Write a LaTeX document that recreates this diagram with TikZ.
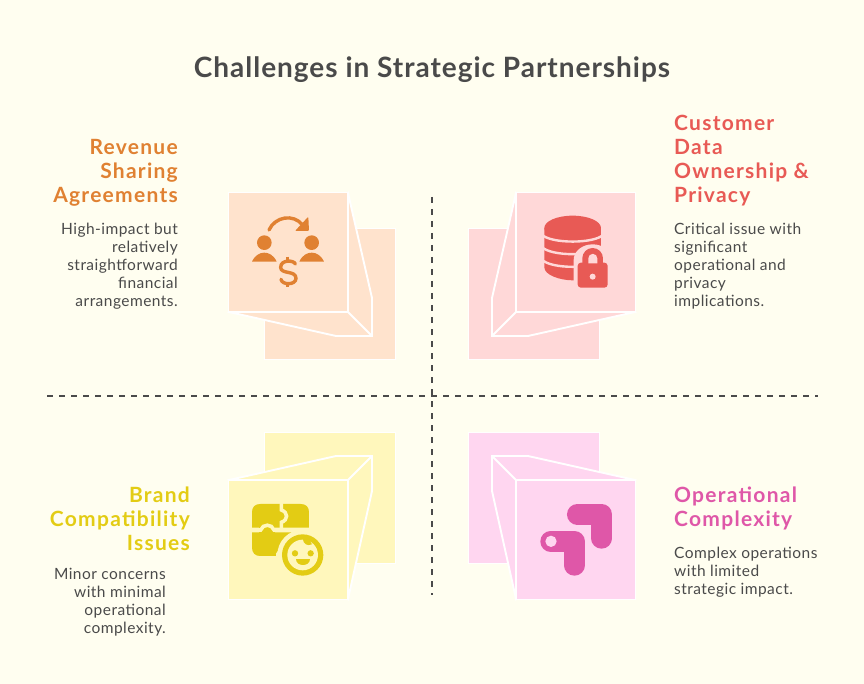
\documentclass[tikz,border=0pt]{standalone}
\usepackage{fontspec}
\setmainfont[LetterSpace=3]{Lato}
\newfontfamily\headfont[BoldFont=Lato Bold,LetterSpace=6]{Lato}
\newfontfamily\titlefont[BoldFont=Lato Bold,LetterSpace=3.5]{Lato}
\definecolor{bgc}{HTML}{FFFEF0}
\definecolor{ink}{HTML}{4A4A4A}
\definecolor{orangeA}{HTML}{E08132}
\definecolor{orangeB}{HTML}{FFE3CD}
\definecolor{redA}{HTML}{E85A55}
\definecolor{redB}{HTML}{FFD8D8}
\definecolor{yelA}{HTML}{E3CC14}
\definecolor{yelB}{HTML}{FFF7BC}
\definecolor{pinkA}{HTML}{DF57A8}
\definecolor{pinkB}{HTML}{FFD6F0}
\tikzset{
 sheet/.style={line width=1.9pt,draw=white,line join=miter},
 axisline/.style={draw=ink,line width=1.8pt,dash pattern=on 6pt off 6pt},
 headt/.style={font=\headfont\bfseries\fontsize{21}{24}\selectfont,inner sep=0pt},
 bodyt/.style={font=\fontsize{15.5}{18}\selectfont,text=ink,inner sep=0pt},
 zoomA/.style={shift={(220,180)},x=0.3333pt,y=-0.3333pt},
 zoomB/.style={shift={(460,180)},x=0.3333pt,y=-0.3333pt},
 zoomC/.style={shift={(220,425)},x=0.3333pt,y=-0.3333pt},
 zoomD/.style={shift={(460,425)},x=0.3333pt,y=-0.3333pt},
}
\begin{document}
\begin{tikzpicture}[x=1pt,y=-1pt]
\useasboundingbox (0,0) rectangle (864,684);
\fill[bgc] (0,0) rectangle (864,684);
\draw[axisline] (47,396) -- (818,396);
\draw[axisline] (432,197) -- (432,595);
\node[font=\titlefont\bfseries\fontsize{28}{30}\selectfont,text=ink,inner sep=0pt] (title) at (432,69.5) {Challenges in Strategic Partnerships};

% --- top left
\filldraw[orangeB,sheet] (264.5,228.5) rectangle (395.5,359.5);
\filldraw[orangeB,sheet] (348,193) -- (372,298) -- (372,336) -- (336,336) -- (229,312) -- cycle;
\filldraw[orangeB,sheet] (228.5,192.5) rectangle (348.2,312.2);
\draw[sheet] (348,312) -- (372,336);
\begin{scope}[zoomA]
 \fill[orangeA] (133,188) circle[radius=22];
 \fill[orangeA] (275,188) circle[radius=22];
 \fill[orangeA] (96,245) .. controls (105,225) and (120,218) .. (133,218) .. controls (146,218) and (161,225) .. (170,245) -- cycle;
 \fill[orangeA] (238,245) .. controls (247,225) and (262,218) .. (275,218) .. controls (288,218) and (303,225) .. (312,245) -- cycle;
 \draw[orangeA,line width=3.4pt,line cap=round] (147,150) .. controls (165,110) and (220,100) .. (248,135);
 \fill[orangeA,rounded corners=1pt] (265,110) -- (267,153) -- (225,153) -- cycle;
 \draw[orangeA,line width=3.4pt,line cap=round] (226,252) .. controls (222,240) and (182,238) .. (182,262) .. controls (182,284) and (228,270) .. (228,295) .. controls (228,316) and (186,316) .. (183,298);
 \draw[orangeA,line width=3pt] (204,230) -- (204,244);
 \draw[orangeA,line width=3pt] (204,308) -- (204,320);
\end{scope}
\node[headt,text=orangeA,align=right,anchor=east] (h1) at (178,172.5) {Revenue\\Sharing\\Agreements};
\node[bodyt,align=right,anchor=east] (b1) at (178,266) {High-impact but\\relatively\\straightforward\\financial\\arrangements.};

% --- top right
\filldraw[redB,sheet] (468.5,228.5) rectangle (599.5,359.5);
\filldraw[redB,sheet] (516,193) -- (492,298) -- (492,336) -- (528,336) -- (635,312) -- cycle;
\filldraw[redB,sheet] (515.8,192.5) rectangle (635.5,312.2);
\draw[sheet] (516,312) -- (492,336);
\begin{scope}[zoomB]
 \fill[redA] (253,144) -- (253,262) .. controls (253,285) and (300,301) .. (338,301) .. controls (376,301) and (423,285) .. (423,262) -- (423,144) -- cycle;
 \fill[redA] (338,144) ellipse[x radius=85,y radius=37];
 \draw[redB,line width=2.4pt] (245,163) .. controls (270,192) and (406,192) .. (431,163);
 \draw[redB,line width=2.4pt] (245,200) .. controls (270,230) and (406,230) .. (431,200);
 \draw[redB,line width=2.4pt] (245,238) .. controls (270,268) and (406,268) .. (431,238);
 \fill[redB] (341,335) -- (341,240) arc[start angle=180,end angle=360,x radius=57,y radius=47] -- (455,335) -- cycle;
 \fill[redA,rounded corners=3.2pt] (353,248) rectangle (443,323);
 \fill[redA] (367,250) -- (367,235) arc[start angle=180,end angle=360,radius=31] -- (429,250) -- cycle;
 \fill[redB] (385,250) -- (385,235) arc[start angle=180,end angle=360,radius=13.5] -- (412,250) -- cycle;
 \fill[redB] (398,290) circle[radius=9];
\end{scope}
\node[headt,text=redA,align=left,anchor=west] (h2) at (674,160.5) {Customer\\Data\\Ownership \&\\Privacy};
\node[bodyt,align=left,anchor=west] (b2) at (674,266) {Critical issue with\\significant\\operational and\\privacy\\implications.};

% --- bottom left
\filldraw[yelB,sheet] (264.5,432.5) rectangle (395.5,563.5);
\filldraw[yelB,sheet] (229,480) -- (336,456) -- (372,456) -- (372,491) -- (348,599) -- cycle;
\filldraw[yelB,sheet] (228.5,479.8) rectangle (348.2,599.5);
\draw[sheet] (348,480) -- (372,456);
\begin{scope}[zoomC]
 \fill[yelA] (96,308) -- (96,262) .. controls (96,246) and (105,237) .. (121,237) -- (242,237) .. controls (258,237) and (267,246) .. (267,262) -- (267,308) -- cycle;
 \fill[yelA] (96,322) -- (96,368) .. controls (96,384) and (106,393) .. (120,393) -- (168,393) -- (168,322) -- cycle;
 \fill[yelA] (168,322) -- (215,322) -- (168,385) -- cycle;
 \fill[yelA] (118,300) rectangle (166,325);
 \draw[yelB,line width=3.6pt] (184,232) -- (184,255) .. controls (205,262) and (205,285) .. (184,292) -- (184,315);
 \draw[yelB,line width=3.6pt] (90,315) -- (122,315) .. controls (128,296) and (156,296) .. (162,315) -- (272,315);
 \fill[yelB] (248,390) circle[radius=76];
 \fill[yelA] (248,390) circle[radius=62];
 \fill[yelB] (248,390) circle[radius=46];
 \fill[yelA] (248,340) .. controls (250,358) and (262,364) .. (276,358) .. controls (270,345) and (260,338) .. (248,338) -- cycle;
 \fill[yelA] (225,385) circle[radius=9.5];
 \fill[yelA] (272,385) circle[radius=9.5];
 \fill[yelA] (228,402) -- (270,402) .. controls (270,425) and (228,425) .. (228,402) -- cycle;
\end{scope}
\node[headt,text=yelA,align=right,anchor=east] (h3) at (190,518.5) {Brand\\Compatibility\\Issues};
\node[bodyt,align=right,anchor=east] (b3) at (166,602) {Minor concerns\\with minimal\\operational\\complexity.};

% --- bottom right
\filldraw[pinkB,sheet] (468.5,432.5) rectangle (599.5,563.5);
\filldraw[pinkB,sheet] (635,480) -- (528,456) -- (492,456) -- (492,491) -- (516,599) -- cycle;
\filldraw[pinkB,sheet] (515.8,479.8) rectangle (635.5,599.5);
\draw[sheet] (516,480) -- (492,456);
\begin{scope}[zoomD]
 \draw[pinkA,line width=20.7pt,line cap=round,line join=round] (352,268) -- (425,268) -- (425,340);
 \draw[pinkA,line width=20.7pt,line cap=round,line join=round] (272,349) -- (343,349) -- (343,421);
 \fill[pinkB] (273,349) circle[radius=17];
\end{scope}
\node[headt,text=pinkA,align=left,anchor=west] (h4) at (674,508.5) {Operational\\Complexity};
\node[bodyt,align=left,anchor=west] (b4) at (674,572) {Complex operations\\with limited\\strategic impact.};
\end{tikzpicture}
\end{document}
